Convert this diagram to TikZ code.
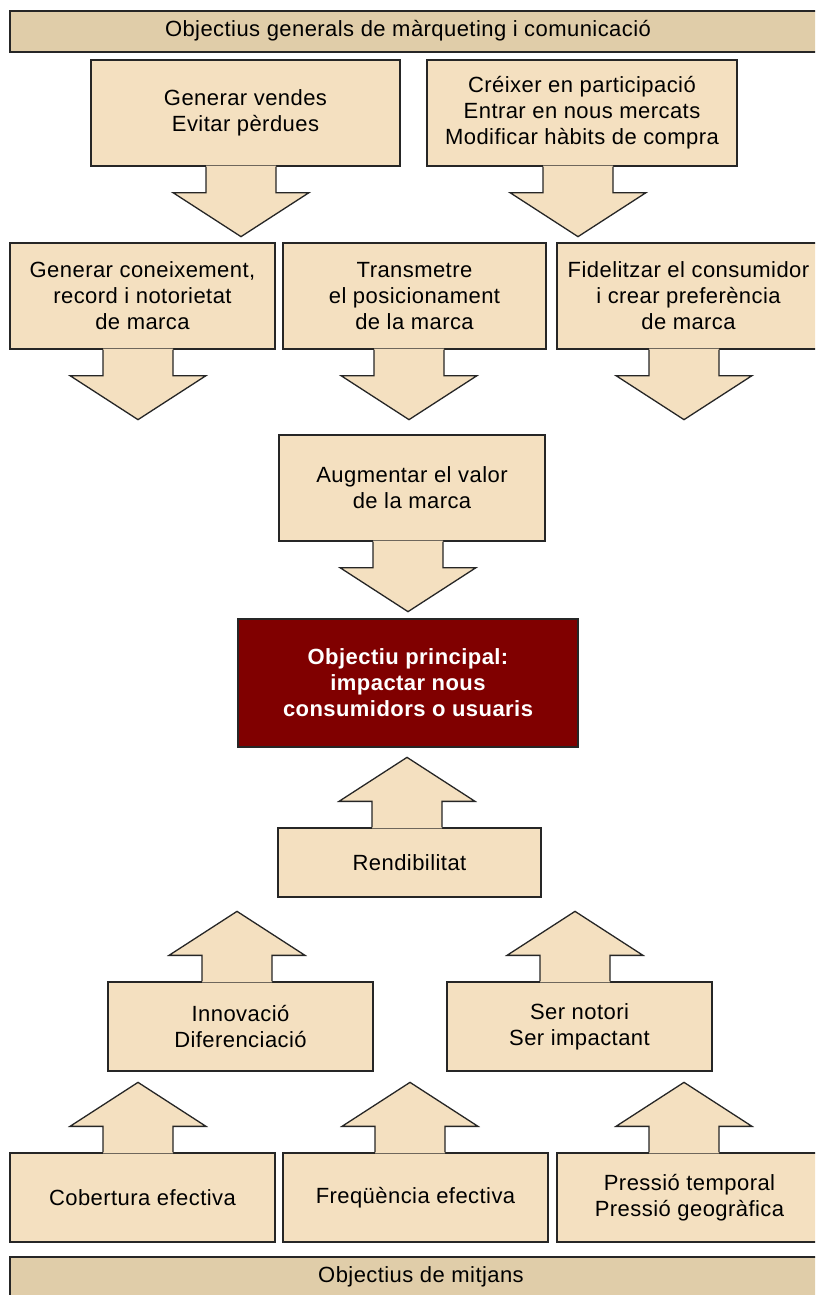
\documentclass[tikz,border=0pt]{standalone}
\usepackage{fontspec}
\setmainfont{Liberation Sans}[LetterSpace=2]
\usetikzlibrary{calc}

\definecolor{boxfill}{HTML}{F4E0C0}
\definecolor{barfill}{HTML}{E0CDA9}
\definecolor{mainred}{HTML}{800000}

\tikzset{
  outline/.style={draw=black!85, line width=1.3pt},
  box/.style={outline, fill=boxfill, inner sep=0pt, align=center,
    font=\fontsize{22}{26}\selectfont},
  bar/.style={box, fill=barfill},
  mainbox/.style={box, fill=mainred, text=white,
    font=\fontsize{22}{26}\selectfont\bfseries},
  title/.style={inner sep=0pt, font=\fontsize{22}{26}\selectfont}
}

\begin{document}
\begin{tikzpicture}[x=1pt, y=-1pt]

  \useasboundingbox (0,0) rectangle (815,1295);
  \clip (0,0) rectangle (815,1295);
  \fill[white] (0,0) rectangle (815,1295);

  % bars
  \node[bar, minimum width=820pt, minimum height=41pt] (topbar) at (420,31.5) {};
  \node[title] (toptitle) at (408,30.5) {Objectius generals de màrqueting i comunicació};

  \node[bar, minimum width=820pt, minimum height=44pt] (botbar) at (420,1279) {};
  \node[title] (bottitle) at (421,1276.5) {Objectius de mitjans};

  % top part
  \node[box, minimum width=309pt, minimum height=106pt] (vendes) at (245.5,113) {Generar vendes\\Evitar pèrdues};
  \node[box, minimum width=310pt, minimum height=106pt] (mercats) at (582,113) {Créixer en participació\\Entrar en nous mercats\\Modificar hàbits de compra};

  \node[box, minimum width=265pt, minimum height=106pt] (coneix) at (142.5,296) {Generar coneixement,\\record i notorietat\\de marca};
  \node[box, minimum width=263pt, minimum height=106pt] (posic) at (414.5,296) {Transmetre\\el posicionament\\de la marca};
  \node[box, minimum width=263pt, minimum height=106pt] (fidel) at (688.5,296) {Fidelitzar el consumidor\\i crear preferència\\de marca};

  \node[box, minimum width=266pt, minimum height=106pt] (valor) at (412,488) {Augmentar el valor\\de la marca};

  \foreach \n/\dx in {vendes/-4.5, mercats/-4, coneix/-4.5, posic/-5.5, fidel/-4.5, valor/-4}{
    \begin{scope}[shift={($(\n.south)+(\dx,0)$)}]
      \fill[boxfill] (-35,-1) -- (-35,26) -- (-68,26) -- (0,70) -- (68,26) -- (35,26) -- (35,-1) -- cycle;
      \draw[outline] (-35,0) -- (-35,26) -- (-68,26) -- (0,70) -- (68,26) -- (35,26) -- (35,0);
    \end{scope}
  }

  % main objective
  \node[mainbox, minimum width=340pt, minimum height=128pt] (main) at (408,683) {Objectiu principal:\\impactar nous\\consumidors o usuaris};

  % bottom part
  \node[box, minimum width=263pt, minimum height=69pt] (rendib) at (409.5,862.5) {Rendibilitat};

  \node[box, minimum width=265pt, minimum height=89pt] (innov) at (240.5,1026.5) {Innovació\\Diferenciació};
  \node[box, minimum width=265pt, minimum height=89pt] (notori) at (579.5,1026.5) {Ser notori\\Ser impactant};

  \node[box, minimum width=265pt, minimum height=89pt] (cobert) at (142.5,1197.5) {Cobertura efectiva};
  \node[box, minimum width=265pt, minimum height=89pt] (freq) at (415.5,1197.5) {Freqüència efectiva};
  \node[box, minimum width=265pt, minimum height=89pt] (pressio) at (689.5,1197.5) {Pressió temporal\\Pressió geogràfica};

  \foreach \n/\dx in {rendib/-2.5, innov/-3.5, notori/-4.5, cobert/-4.5, freq/-5.5, pressio/-5.5}{
    \begin{scope}[shift={($(\n.north)+(\dx,0)$)}]
      \fill[boxfill] (-35,1) -- (-35,-26) -- (-68,-26) -- (0,-70) -- (68,-26) -- (35,-26) -- (35,1) -- cycle;
      \draw[outline] (-35,0) -- (-35,-26) -- (-68,-26) -- (0,-70) -- (68,-26) -- (35,-26) -- (35,0);
    \end{scope}
  }

\end{tikzpicture}
\end{document}
